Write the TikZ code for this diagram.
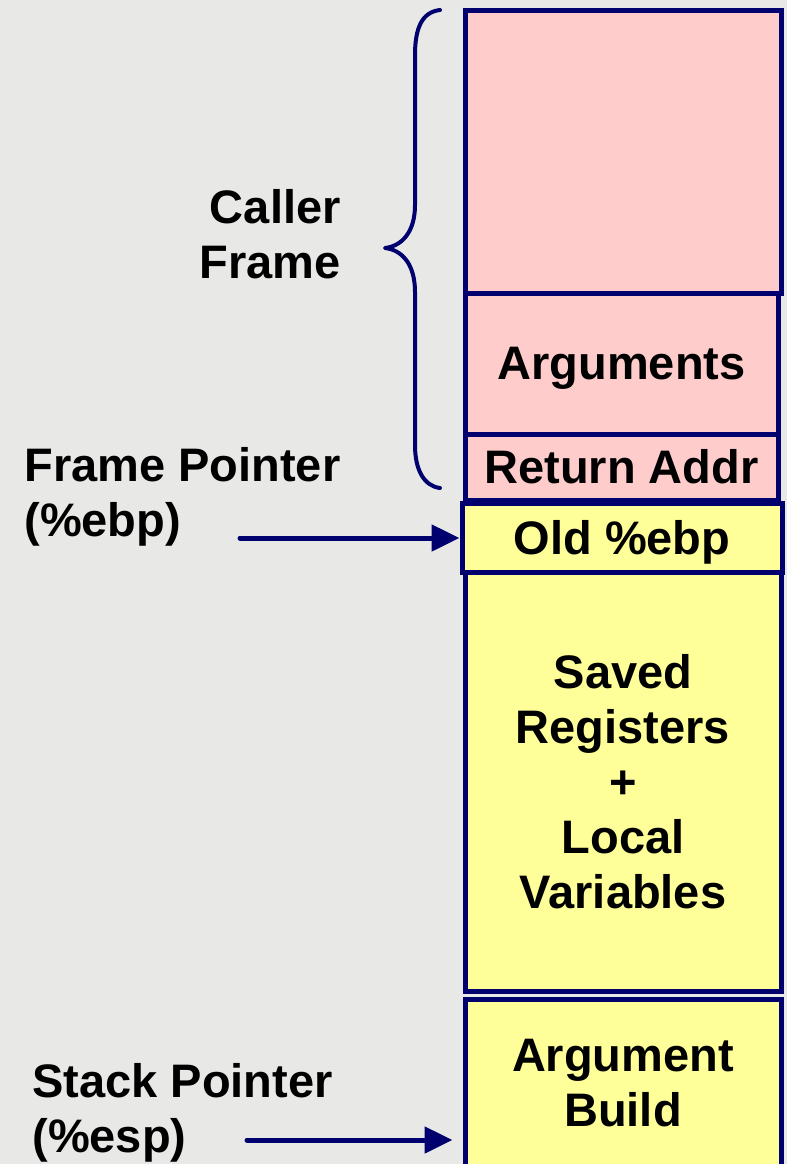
\documentclass[tikz,border=0pt]{standalone}
\usepackage{fontspec}
\setmainfont{Liberation Sans}
\usetikzlibrary{arrows.meta}
\definecolor{navy}{RGB}{0,0,110}
\definecolor{callerpink}{HTML}{FFCCCC}
\definecolor{calleeyellow}{HTML}{FFFF99}
\definecolor{backgray}{HTML}{E8E9E6}
\begin{document}
\begin{tikzpicture}[x=0.5pt,y=-0.5pt,line cap=round,line join=round,
    every node/.style={font=\fontsize{23.5}{27.5}\selectfont\bfseries,inner sep=0pt},
    slot/.style={draw=navy,line width=2.5pt,line join=miter,align=center},
    caller/.style={slot,fill=callerpink},
    callee/.style={slot,fill=calleeyellow},
    ptr/.style={draw=navy,line width=2.5pt,-{Triangle[length=14pt,width=13pt]}}]
		\useasboundingbox (0,0) rectangle (787,1164);
		\clip (0,0) rectangle (787,1164);
		\fill [backgray] (0,0) rectangle (787,1164);
		% caller frame
		\node [caller,minimum width=158pt,minimum height=141.5pt] (upper) at (623,151.5) {};
		\node [caller,minimum width=156.5pt,minimum height=70.5pt,text depth=0pt] (args) at (621.5,363.5) {Arguments};
		\node [caller,minimum width=156.5pt,minimum height=33pt] (retaddr) at (621.5,467) {Return Addr};
		% current frame
		\node [callee,minimum width=160pt,minimum height=34.5pt,text depth=0pt] (oldebp) at (622,537.5) {Old \%ebp};
		\node [callee,minimum width=158pt,minimum height=209.5pt] (saved) at (623,781.5) {Saved\\Registers\\+\\Local\\Variables};
		\node [callee,minimum width=158pt,minimum height=84.5pt] (argbuild) at (623,1083.5) {Argument\\Build};
		% brace
		\draw [navy,line width=2pt] (440,10) .. controls (422,12) and (415,28) .. (415,55) -- (415,205)
			.. controls (415,232) and (402,246) .. (385,248) .. controls (402,250) and (415,264) .. (415,292)
			-- (415,445) .. controls (415,470) and (424,486) .. (440,488);
		% labels
		\node [anchor=east,align=right] (callerlbl) at (341,234) {Caller\\Frame};
		\node [anchor=west,align=left] (fplbl) at (24,497) {Frame Pointer\\(\%ebp)};
		\node [anchor=west,align=left] (splbl) at (32,1113) {Stack Pointer\\(\%esp)};
		% pointers
		\coordinate (fptail) at (240,538);
		\coordinate (sptail) at (247,1140);
		\draw [ptr] (fptail) -- (fptail -| oldebp.west);
		\draw [ptr,shorten >=5pt] (sptail) -- (sptail -| argbuild.west);
\end{tikzpicture}
\end{document}
